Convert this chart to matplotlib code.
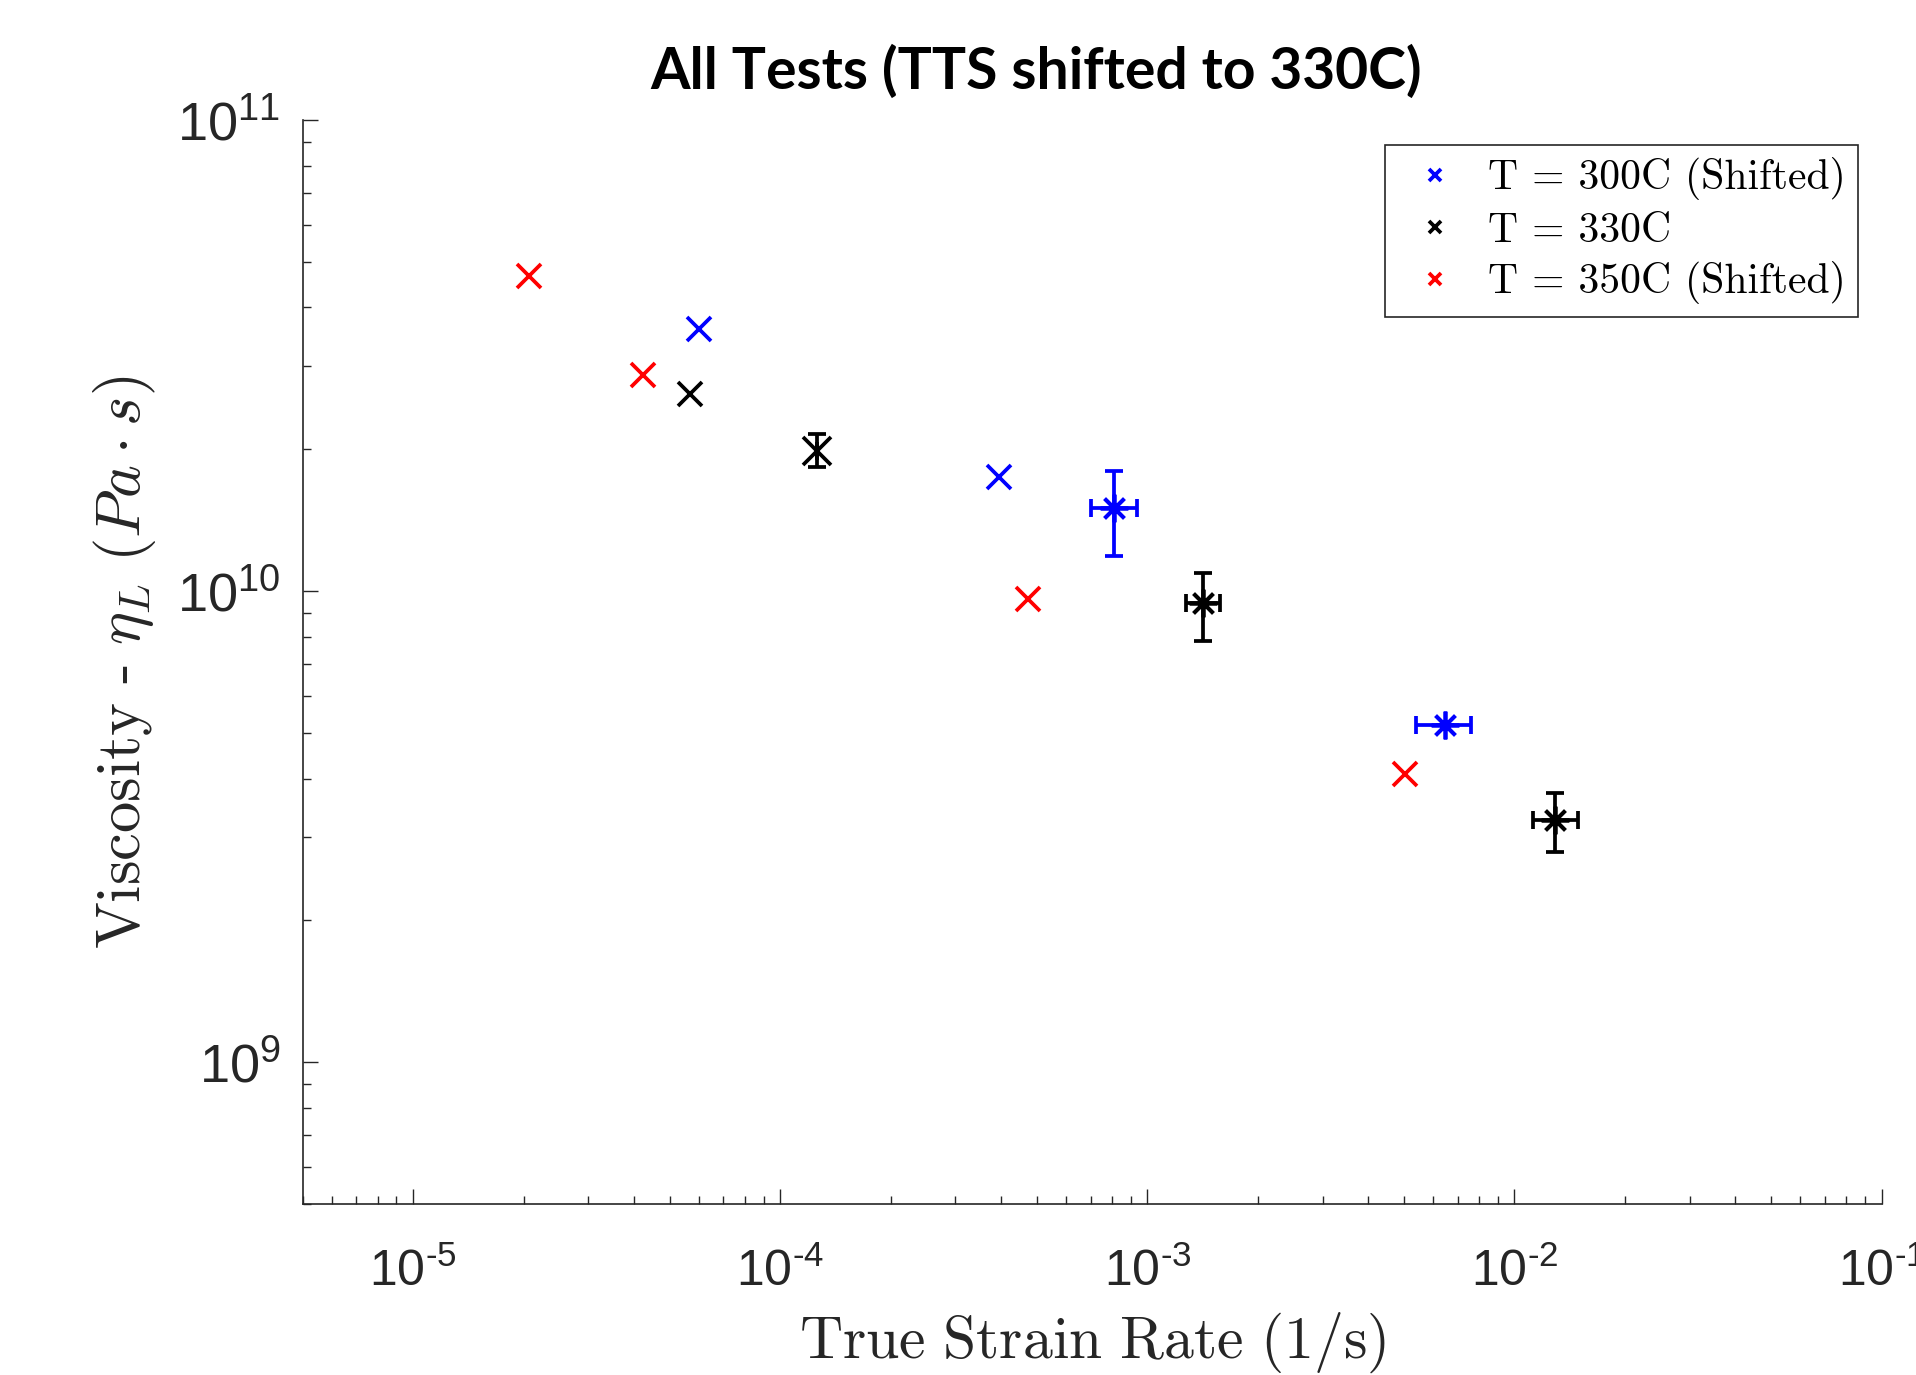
import numpy as np
import matplotlib
matplotlib.use("Agg")
import matplotlib.pyplot as plt
from matplotlib.ticker import LogLocator, FuncFormatter, NullFormatter

plt.rcParams['mathtext.fontset'] = 'custom'
plt.rcParams['mathtext.rm'] = 'Liberation Sans'
plt.rcParams['mathtext.it'] = 'Liberation Sans:italic'
plt.rcParams['font.family'] = 'Liberation Sans'

# T = 300C (shifted), single tests
blue_x = [6.01e-5, 3.94e-4]
blue_y = [3.60e10, 1.75e10]
# T = 300C (shifted), averaged tests with bounds
blue_ex = [8.09e-4, 6.47e-3]
blue_ey = [1.50e10, 5.20e9]
blue_x_lo = [7.00e-4, 5.38e-3]
blue_x_hi = [9.35e-4, 7.62e-3]
blue_y_lo = [1.186e10, 5.20e9]
blue_y_hi = [1.80e10, 5.20e9]

# T = 330C
black_x = [5.66e-5]
black_y = [2.62e10]
black_ex = [1.26e-4, 1.42e-3, 1.29e-2]
black_ey = [1.98e10, 9.42e9, 3.27e9]
black_x_lo = [1.26e-4, 1.276e-3, 1.124e-2]
black_x_hi = [1.26e-4, 1.578e-3, 1.493e-2]
black_y_lo = [1.83e10, 7.83e9, 2.80e9]
black_y_hi = [2.15e10, 1.09e10, 3.72e9]

# T = 350C (shifted)
red_x = [2.07e-5, 4.23e-5, 4.73e-4, 5.02e-3]
red_y = [4.66e10, 2.88e10, 9.60e9, 4.09e9]

labels = ['T = 300C (Shifted)', 'T = 330C', 'T = 350C (Shifted)']

fig = plt.figure(figsize=(19.16, 13.75), dpi=100)
ax = fig.add_axes([0.158, 0.1244, 0.824, 0.7883])
ax.set_xscale('log')
ax.set_yscale('log')

ms = 17
mew = 2.7
star = (8, 2, 0)


def err_pts(ax, x, y, xlo, xhi, ylo, yhi, color, markers):
    x = np.array(x)
    y = np.array(y)
    xerr = [x - np.array(xlo), np.array(xhi) - x]
    yerr = [y - np.array(ylo), np.array(yhi) - y]
    for i in range(len(x)):
        ax.errorbar(x[i], y[i], xerr=[[xerr[0][i]], [xerr[1][i]]],
                    yerr=[[yerr[0][i]], [yerr[1][i]]], fmt='none',
                    ecolor=color, elinewidth=2.7, capsize=6.5, capthick=2.7)
        ax.plot(x[i], y[i], ls='none', marker=markers[i], color=color,
                ms=ms + 3, mew=mew)


h1, = ax.plot(blue_x, blue_y, 'x', color='blue', ms=ms, mew=mew)
err_pts(ax, blue_ex, blue_ey, blue_x_lo, blue_x_hi, blue_y_lo, blue_y_hi, 'blue', [star, star])
h2, = ax.plot(black_x, black_y, 'x', color='black', ms=ms, mew=mew)
err_pts(ax, black_ex, black_ey, black_x_lo, black_x_hi, black_y_lo, black_y_hi, 'black', ['x', star, star])
h3, = ax.plot(red_x, red_y, 'x', color='red', ms=ms, mew=mew)

ax.set_xlim(5e-6, 1e-1)
ax.set_ylim(5e8, 1e11)

for s in ['top', 'right']:
    ax.spines[s].set_visible(False)
for s in ['left', 'bottom']:
    ax.spines[s].set_linewidth(1.2)
    ax.spines[s].set_color('#262626')


def pow_fmt(v, pos):
    e = int(round(np.log10(v)))
    if e < 0:
        return r'$10^{\text{-}%d}$' % (-e)
    return r'$10^{%d}$' % e


ax.xaxis.set_major_locator(LogLocator(base=10, numticks=20))
ax.xaxis.set_minor_locator(LogLocator(base=10, subs=np.arange(2, 10), numticks=20))
ax.yaxis.set_major_locator(LogLocator(base=10, numticks=20))
ax.yaxis.set_minor_locator(LogLocator(base=10, subs=np.arange(2, 10), numticks=20))
ax.xaxis.set_major_formatter(FuncFormatter(pow_fmt))
ax.yaxis.set_major_formatter(FuncFormatter(pow_fmt))
ax.xaxis.set_minor_formatter(NullFormatter())
ax.yaxis.set_minor_formatter(NullFormatter())
ax.tick_params(which='both', direction='in', colors='#262626', width=1.0)
ax.tick_params(which='major', length=11)
ax.tick_params(which='minor', length=6)
ax.tick_params(axis='x', which='major', labelsize=36, pad=32)
ax.tick_params(axis='y', which='major', labelsize=39, pad=16)

ax.set_xlabel(r'$\mathrm{True\ Strain\ Rate\ (1/s)}$', fontsize=43,
              math_fontfamily='cm', labelpad=10, color='#262626')
ax.set_ylabel(r'$\mathrm{Viscosity\ \text{-}\ }\eta_L\ (Pa\cdot s)$', fontsize=45,
              math_fontfamily='cm', labelpad=14, color='#262626')

leg = ax.legend([h1, h2, h3], labels, loc='upper right', bbox_to_anchor=(0.985, 0.977),
                borderaxespad=0, prop={'family': 'cmr10', 'size': 30}, markerscale=0.5,
                fancybox=False, edgecolor='#262626', framealpha=1,
                handlelength=1.8, handletextpad=0.35, borderpad=0.3, labelspacing=0.28)
leg.get_frame().set_linewidth(1.2)

fig.text(0.541, 0.948, 'All Tests (TTS shifted to 330C)', ha='center', va='center',
         fontsize=41, fontweight='bold', family='Lato')

fig.savefig('out.png', dpi=100)
